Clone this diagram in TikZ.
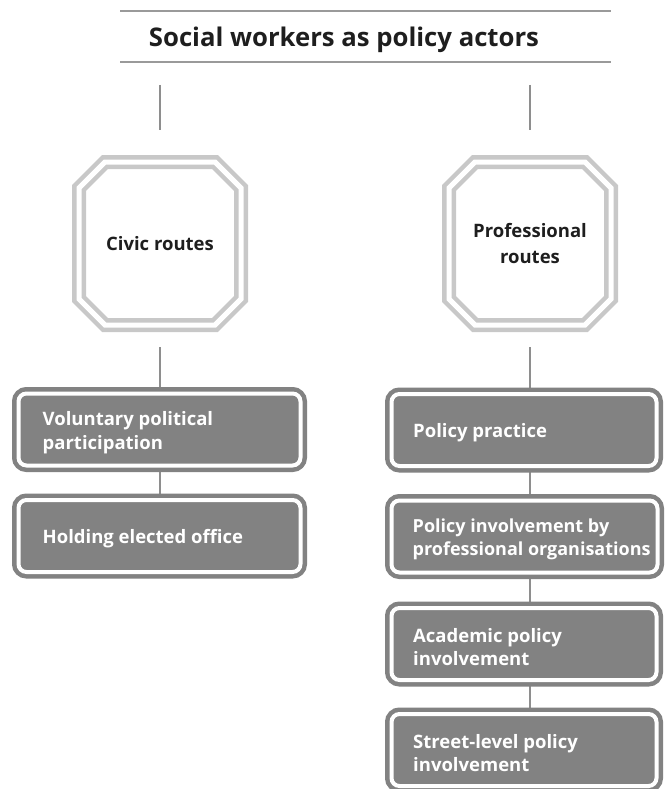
\documentclass[tikz,border=0pt]{standalone}
\usepackage{fontspec}
\setmainfont{Open Sans}
\usetikzlibrary{backgrounds}
\definecolor{octgray}{HTML}{C8C8C8}
\definecolor{boxgray}{HTML}{828282}
\definecolor{linegray}{HTML}{8E8E8E}
\definecolor{rulegray}{HTML}{9A9A9A}
\definecolor{titleblack}{HTML}{1E1E1E}
\begin{document}
\begin{tikzpicture}[x=1pt,y=-1pt,
  octbox/.style={minimum width=162pt, minimum height=163pt, inner sep=0pt, outer sep=0pt, align=center, font=\bfseries\fontsize{18.5}{25.5}\selectfont, text=titleblack},
  octline/.style={draw=octgray, line width=4.5pt, double=white, double distance=5pt, line join=miter},
  routebox/.style={draw=boxgray, fill=boxgray, line width=4.5pt, double=white, double distance=4pt, rounded corners=8pt, minimum height=72pt, inner sep=0pt, outer sep=0pt},
  boxtext/.style={text=white, align=left, font=\bfseries\fontsize{18.5}{23.5}\selectfont, inner sep=0pt, anchor=west, yshift=-3pt},
  conn/.style={draw=linegray, line width=2pt},
  titlerule/.style={draw=rulegray, line width=2pt}]
\useasboundingbox (0,0) rectangle (666,789);

% title
\node[font=\bfseries\fontsize{25.7}{30}\selectfont, text=titleblack] (title) at (344,39.5) {Social workers as policy actors};
\coordinate (r1a) at (120,11); \coordinate (r1b) at (611,11);
\coordinate (r2a) at (120,62); \coordinate (r2b) at (611,62);
\draw[titlerule] (r1a) -- (r1b);
\draw[titlerule] (r2a) -- (r2b);

% top stubs
\coordinate (ct1) at (159.5,85); \coordinate (cb1) at (159.5,130);
\coordinate (ct2) at (530,85); \coordinate (cb2) at (530,130);
\draw[conn] (ct1) -- (cb1);
\draw[conn] (ct2) -- (cb2);

% octagons
\node[octbox] (civic) at (160,243.5) {Civic routes};
\node[octbox] (prof) at (530,243.5) {Professional\\routes};
\foreach \n in {civic,prof}{
  \draw[octline] ([xshift=26pt]\n.north west) -- ([xshift=-26pt]\n.north east)
    -- ([yshift=-26pt]\n.north east) -- ([yshift=26pt]\n.south east)
    -- ([xshift=-26pt]\n.south east) -- ([xshift=26pt]\n.south west)
    -- ([yshift=26pt]\n.south west) -- ([yshift=-26pt]\n.north west) -- cycle;
}

% left boxes
\node[routebox, minimum width=282pt] (vpp) at (159.5,429.5) {};
\node[boxtext] (vppt) at ([xshift=24pt]vpp.west) {Voluntary political\\participation};
\node[routebox, minimum width=282pt] (heo) at (159.5,536) {};
\node[boxtext] (heot) at ([xshift=24pt]heo.west) {Holding elected office};

% right boxes
\node[routebox, minimum width=265pt] (pp) at (524,430) {};
\node[boxtext] (ppt) at ([xshift=21.5pt]pp.west) {Policy practice};
\node[routebox, minimum width=266pt] (pi) at (524.5,536.5) {};
\node[boxtext, font=\bfseries\fontsize{18}{23.5}\selectfont] (pit) at ([xshift=21pt]pi.west) {Policy involvement by\\professional organisations};
\node[routebox, minimum width=265pt] (api) at (524,644) {};
\node[boxtext] (apit) at ([xshift=21.5pt]api.west) {Academic policy\\involvement};
\node[routebox, minimum width=265pt] (sli) at (524,750) {};
\node[boxtext] (slit) at ([xshift=21.5pt]sli.west) {Street-level policy\\involvement};

\begin{pgfonlayer}{background}
  \fill[white] (0,0) rectangle (666,789);
  \draw[conn] ([yshift=-22pt]civic.south) -- (vpp.north -| civic.south);
  \draw[conn] (vpp.south -| civic.south) -- (heo.north -| civic.south);
  \draw[conn] ([yshift=-22pt]prof.south) -- (pp.north -| prof.south);
  \draw[conn] (pp.south -| prof.south) -- (pi.north -| prof.south);
  \draw[conn] (pi.south -| prof.south) -- (api.north -| prof.south);
  \draw[conn] (api.south -| prof.south) -- (sli.north -| prof.south);
\end{pgfonlayer}
\end{tikzpicture}
\end{document}
